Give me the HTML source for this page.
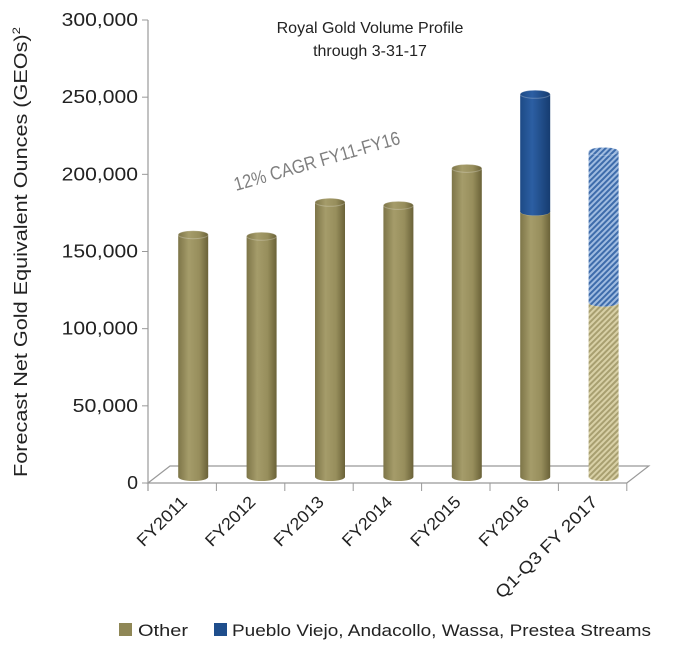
<!DOCTYPE html>
<html><head><meta charset="utf-8"><style>
body{margin:0;background:#fff;}
svg text{font-family:"Liberation Sans",sans-serif;}
</style></head><body>
<svg id="chart" width="700" height="647" viewBox="0 0 700 647" xmlns="http://www.w3.org/2000/svg">
<defs>
<linearGradient id="gOther" x1="0" x2="1" y1="0" y2="0">
<stop offset="0" stop-color="#7d7548"/><stop offset="0.35" stop-color="#a59c6a"/><stop offset="0.7" stop-color="#978e5c"/><stop offset="1" stop-color="#6a6238"/></linearGradient>
<linearGradient id="gPV" x1="0" x2="1" y1="0" y2="0">
<stop offset="0" stop-color="#1d4a86"/><stop offset="0.4" stop-color="#2c5fa3"/><stop offset="1" stop-color="#163c70"/></linearGradient>
<pattern id="hOther" width="4" height="4" patternUnits="userSpaceOnUse" patternTransform="rotate(45)">
<rect width="4" height="4" fill="#d8d0a6"/><rect width="2" height="4" fill="#a89f70"/></pattern>
<pattern id="hPV" width="4" height="4" patternUnits="userSpaceOnUse" patternTransform="rotate(45)">
<rect width="4" height="4" fill="#9fbbe0"/><rect width="2" height="4" fill="#3e6cab"/></pattern>
</defs>
<g id="axes"></g>
<g id="bars"></g>
<text x="370" y="33" font-size="16" text-anchor="middle" fill="#222">Royal Gold Volume Profile</text>
<text x="370" y="56" font-size="16" text-anchor="middle" fill="#222">through 3-31-17</text>
<text transform="translate(236,191) rotate(-16)" font-size="19" fill="#7f7f7f" textLength="172" lengthAdjust="spacingAndGlyphs">12% CAGR FY11-FY16</text>
<text transform="translate(27,252) rotate(-90)" font-size="18" text-anchor="middle" fill="#222" textLength="450" lengthAdjust="spacingAndGlyphs">Forecast Net Gold Equivalent Ounces (GEOs)<tspan font-size="11" dy="-7">2</tspan></text>
<rect x="119" y="623" width="13" height="13" fill="#8f8756"/>
<text x="138" y="636" font-size="17" fill="#222" textLength="50" lengthAdjust="spacingAndGlyphs">Other</text>
<rect x="214" y="623" width="13" height="13" fill="#1f4e8c"/>
<text x="232" y="636" font-size="17" fill="#222" textLength="419" lengthAdjust="spacingAndGlyphs">Pueblo Viejo, Andacollo, Wassa, Prestea Streams</text>
</svg>
<script>
const categories=["FY2011","FY2012","FY2013","FY2014","FY2015","FY2016","Q1-Q3 FY 2017"];
const otherValues=[157000,156000,178000,176000,200000,172000,113000];
const streamValues=[0,0,0,0,0,76000,98000];
const yTicks=[0,50000,100000,150000,200000,250000,300000];
const yTickLabels=["0","50,000","100,000","150,000","200,000","250,000","300,000"];

const NS="http://www.w3.org/2000/svg";
const x0=148,catW=68.4,y0=483,pxPer=463/300000,dx=22,dy=17,barBase=477,bw=30,ry=4;
const yScale=v=>y0-v*pxPer;
const barY=v=>barBase-v*pxPer;
const catX=i=>x0+catW*i;
function mk(tag,attrs,parent){const e=document.createElementNS(NS,tag);for(const k in attrs)e.setAttribute(k,attrs[k]);parent.appendChild(e);return e;}
const axes=document.getElementById('axes'),bars=document.getElementById('bars');
const xEnd=x0+catW*categories.length;
let e;
e=mk('path',{d:`M${x0},${y0} L${x0+dx},${y0-dy} L${xEnd+dx},${y0-dy} L${xEnd},${y0} Z`,fill:'none',stroke:'#999','stroke-width':1.2},axes);


e=mk('line',{x1:x0,y1:yScale(300000),x2:x0,y2:y0+8,stroke:'#999','stroke-width':1.2},axes);


yTicks.forEach((t,i)=>{
 const y=yScale(t);
 const l=mk('line',{x1:x0-6,y1:y,x2:x0,y2:y,stroke:'#999'},axes);
 
 
 const len=yTickLabels[i].length;
 const tx=mk('text',{x:138,y:y+6,'font-size':18,'text-anchor':'end',fill:'#222',textLength:len*10.9,lengthAdjust:'spacingAndGlyphs'},axes);
 tx.textContent=yTickLabels[i];
 
 
});
for(let i=0;i<=categories.length;i++){
 const l=mk('line',{x1:catX(i),y1:y0,x2:catX(i),y2:y0+8,stroke:'#999'},axes);
 
 
}
function cyl(cx,vb,vt,fill,name){
 const yb=barY(vb),yt=barY(vt);
 const g=mk('g',{},bars);
 
 
 mk('path',{d:`M${cx-bw/2},${yt} L${cx-bw/2},${yb} A${bw/2},${ry} 0 0 0 ${cx+bw/2},${yb} L${cx+bw/2},${yt} Z`,fill:fill},g);
 mk('ellipse',{cx:cx,cy:yt,rx:bw/2,ry:ry,fill:fill,stroke:'rgba(255,255,255,0.25)'},g);
}
categories.forEach((c,i)=>{
 const cx=catX(i)+catW/2+11;
 const hatched=i===categories.length-1;
 cyl(cx,0,otherValues[i],hatched?'url(#hOther)':'url(#gOther)','bar-other-'+c.toLowerCase().replace(/\s+/g,'-'));
 if(streamValues[i]>0)cyl(cx,otherValues[i],otherValues[i]+streamValues[i],hatched?'url(#hPV)':'url(#gPV)','bar-streams-'+c.toLowerCase().replace(/\s+/g,'-'));
 const tx=mk('text',{transform:`translate(${catX(i)+catW/2+6},${y0+20}) rotate(-45)`,'font-size':17,'text-anchor':'end',fill:'#222',textLength:c.length*10.5,lengthAdjust:'spacingAndGlyphs'},axes);
 tx.textContent=c;
 
 
});
</script>
</body></html>
